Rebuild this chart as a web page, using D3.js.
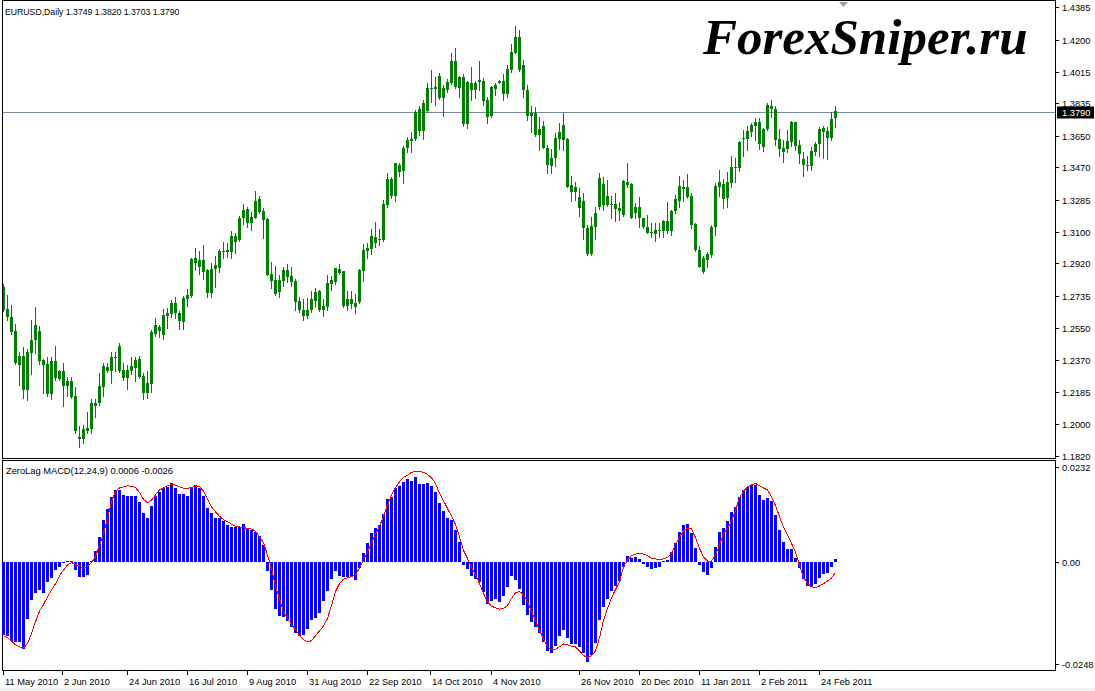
<!DOCTYPE html>
<html><head><meta charset="utf-8">
<script src="https://cdn.jsdelivr.net/npm/d3@7"></script>
<style>
html,body{margin:0;padding:0;background:#fff;}
svg{display:block;}
</style></head><body>
<svg id="chart" width="1095" height="691"></svg>
<script>
// ---------------- data ----------------
const symbolTitle = "EURUSD,Daily";
const lastBarText = "1.3749 1.3820 1.3703 1.3790";
const indicatorTitle = "ZeroLag MACD(12,24,9) 0.0006 -0.0026";
const watermark = "ForexSniper.ru";
const lastPrice = 1.3790;

const opens = [
1.2787,1.2657,1.2611,1.2533,1.2339,1.2390,1.2195,1.2409,1.2482,1.2533,
1.2367,1.2344,1.2173,1.2361,1.2258,1.2304,1.2218,1.2247,1.2161,1.1929,
1.1915,1.1976,1.1972,1.2121,1.2121,1.2215,1.2327,1.2304,1.2382,1.2447,
1.2310,1.2266,1.2306,1.2323,1.2373,1.2276,1.2180,1.2230,1.2516,1.2554,
1.2510,1.2619,1.2630,1.2695,1.2638,1.2587,1.2716,1.2735,1.2949,1.2939,
1.2939,1.2882,1.2749,1.2888,1.2892,1.2987,1.2997,1.2987,1.3077,1.3054,
1.3178,1.3231,1.3153,1.3182,1.3288,1.3220,1.3174,1.2859,1.2825,1.2758,
1.2821,1.2882,1.2848,1.2819,1.2705,1.2653,1.2621,1.2653,1.2707,1.2762,
1.2653,1.2672,1.2802,1.2815,1.2888,1.2876,1.2678,1.2716,1.2695,1.2701,
1.2878,1.2993,1.3002,1.3069,1.3056,1.3054,1.3254,1.3403,1.3305,1.3483,
1.3450,1.3578,1.3622,1.3630,1.3803,1.3679,1.3794,1.3918,1.3931,1.3868,
1.3921,1.3912,1.3950,1.4078,1.3925,1.3984,1.3717,1.3950,1.3912,1.3960,
1.3965,1.3855,1.3763,1.3918,1.3950,1.3963,1.3889,1.4027,1.4125,1.4217,
1.4056,1.3912,1.3763,1.3779,1.3655,1.3706,1.3578,1.3477,1.3521,1.3632,
1.3712,1.3630,1.3330,1.3355,1.3302,1.3277,1.3124,1.2974,1.3130,1.3241,
1.3374,1.3254,1.3260,1.3260,1.3222,1.3197,1.3387,1.3374,1.3210,1.3245,
1.3182,1.3130,1.3096,1.3111,1.3107,1.3107,1.3162,1.3107,1.3222,1.3279,
1.3359,1.3359,1.3305,1.3145,1.2997,1.2873,1.2940,1.2968,1.3126,1.3359,
1.3374,1.3292,1.3382,1.3468,1.3468,1.3630,1.3630,1.3674,1.3708,1.3729,
1.3584,1.3687,1.3820,1.3803,1.3630,1.3582,1.3574,1.3616,1.3727,1.3597,
1.3517,1.3483,1.3479,1.3559,1.3603,1.3697,1.3677,1.3639,1.3749];

const highs = [
1.2802,1.2739,1.2682,1.2573,1.2415,1.2443,1.2428,1.2596,1.2672,1.2562,
1.2371,1.2382,1.2386,1.2447,1.2310,1.2348,1.2268,1.2268,1.2211,1.1990,
1.1995,1.2072,1.2142,1.2142,1.2291,1.2348,1.2348,1.2415,1.2415,1.2462,
1.2352,1.2338,1.2386,1.2386,1.2392,1.2291,1.2304,1.2539,1.2606,1.2567,
1.2657,1.2663,1.2711,1.2726,1.2648,1.2733,1.2773,1.2953,1.3006,1.2991,
1.3025,1.2886,1.2920,1.2962,1.3002,1.3044,1.3035,1.3105,1.3096,1.3191,
1.3260,1.3241,1.3216,1.3334,1.3305,1.3235,1.3178,1.2930,1.2905,1.2854,
1.2897,1.2916,1.2897,1.2831,1.2730,1.2716,1.2720,1.2762,1.2777,1.2768,
1.2716,1.2853,1.2848,1.2895,1.2916,1.2876,1.2762,1.2762,1.2745,1.2886,
1.3029,1.3035,1.3117,1.3159,1.3117,1.3283,1.3439,1.3412,1.3492,1.3496,
1.3591,1.3645,1.3674,1.3798,1.3821,1.3855,1.3950,1.4026,1.3984,1.4011,
1.3941,1.3973,1.4122,1.4150,1.3992,1.4002,1.3963,1.4042,1.3963,1.4078,
1.3979,1.3870,1.3937,1.3950,1.3969,1.4002,1.4056,1.4175,1.4278,1.4255,
1.4084,1.3941,1.3821,1.3813,1.3756,1.3737,1.3597,1.3572,1.3668,1.3725,
1.3782,1.3635,1.3420,1.3388,1.3349,1.3321,1.3140,1.3184,1.3245,1.3439,
1.3412,1.3397,1.3305,1.3321,1.3273,1.3397,1.3496,1.3382,1.3267,1.3298,
1.3182,1.3197,1.3149,1.3149,1.3153,1.3168,1.3273,1.3225,1.3311,1.3420,
1.3397,1.3431,1.3321,1.3153,1.3019,1.2962,1.2987,1.3140,1.3382,1.3454,
1.3401,1.3445,1.3534,1.3521,1.3622,1.3683,1.3706,1.3721,1.3750,1.3750,
1.3697,1.3839,1.3855,1.3820,1.3687,1.3626,1.3683,1.3737,1.3731,1.3626,
1.3559,1.3534,1.3588,1.3616,1.3702,1.3706,1.3702,1.3784,1.3820];

const lows = [
1.2649,1.2596,1.2514,1.2344,1.2224,1.2152,1.2138,1.2287,1.2405,1.2342,
1.2176,1.2161,1.2144,1.2253,1.2253,1.2104,1.2161,1.2148,1.1948,1.1871,
1.1894,1.1948,1.1951,1.2043,1.2110,1.2161,1.2297,1.2237,1.2304,1.2297,
1.2253,1.2201,1.2287,1.2249,1.2262,1.2144,1.2152,1.2186,1.2506,1.2501,
1.2490,1.2548,1.2615,1.2606,1.2545,1.2543,1.2676,1.2730,1.2882,1.2857,
1.2831,1.2726,1.2726,1.2787,1.2873,1.2949,1.2958,1.2949,1.2977,1.3048,
1.3145,1.3126,1.3111,1.3178,1.3206,1.3063,1.2851,1.2777,1.2739,1.2730,
1.2791,1.2815,1.2791,1.2653,1.2644,1.2596,1.2606,1.2644,1.2672,1.2650,
1.2621,1.2653,1.2768,1.2802,1.2859,1.2669,1.2653,1.2663,1.2638,1.2695,
1.2821,1.2949,1.2974,1.3016,1.3025,1.3050,1.3241,1.3292,1.3279,1.3420,
1.3378,1.3559,1.3559,1.3626,1.3655,1.3630,1.3788,1.3845,1.3826,1.3860,
1.3765,1.3902,1.3946,1.3921,1.3870,1.3706,1.3693,1.3855,1.3864,1.3912,
1.3826,1.3725,1.3755,1.3883,1.3950,1.3855,1.3874,1.4017,1.4122,1.4021,
1.3874,1.3740,1.3674,1.3651,1.3569,1.3582,1.3439,1.3439,1.3477,1.3572,
1.3569,1.3355,1.3279,1.3283,1.3191,1.3058,1.2968,1.2968,1.3058,1.3229,
1.3225,1.3248,1.3178,1.3162,1.3168,1.3191,1.3359,1.3178,1.3178,1.3126,
1.3121,1.3092,1.3073,1.3050,1.3073,1.3073,1.3092,1.3082,1.3210,1.3244,
1.3279,1.3292,1.3121,1.2993,1.2901,1.2867,1.2901,1.2959,1.3082,1.3305,
1.3239,1.3244,1.3355,1.3388,1.3449,1.3534,1.3569,1.3651,1.3626,1.3572,
1.3563,1.3683,1.3759,1.3597,1.3536,1.3502,1.3559,1.3591,1.3569,1.3492,
1.3422,1.3454,1.3454,1.3540,1.3534,1.3521,1.3515,1.3626,1.3703];

const closes = [
1.2653,1.2611,1.2529,1.2352,1.2390,1.2195,1.2415,1.2482,1.2567,1.2363,
1.2339,1.2173,1.2361,1.2262,1.2304,1.2218,1.2247,1.2157,1.1961,1.1915,
1.1972,1.1961,1.2121,1.2104,1.2218,1.2333,1.2304,1.2382,1.2380,1.2304,
1.2266,1.2310,1.2331,1.2367,1.2268,1.2180,1.2234,1.2529,1.2567,1.2535,
1.2625,1.2638,1.2695,1.2638,1.2592,1.2724,1.2739,1.2945,1.2924,1.2901,
1.2873,1.2749,1.2888,1.2911,1.2991,1.2993,1.2987,1.3077,1.3044,1.3178,
1.3225,1.3153,1.3187,1.3277,1.3212,1.3168,1.2854,1.2821,1.2745,1.2825,
1.2882,1.2844,1.2815,1.2701,1.2653,1.2621,1.2653,1.2716,1.2754,1.2653,
1.2676,1.2806,1.2825,1.2895,1.2863,1.2676,1.2716,1.2688,1.2672,1.2882,
1.2996,1.3010,1.3077,1.3038,1.3060,1.3260,1.3403,1.3305,1.3492,1.3445,
1.3582,1.3626,1.3632,1.3784,1.3679,1.3840,1.3921,1.3925,1.3918,1.3992,
1.3868,1.3960,1.4078,1.3931,1.3984,1.3717,1.3956,1.3912,1.3950,1.3969,
1.3851,1.3760,1.3927,1.3941,1.3963,1.3889,1.4031,1.4127,1.4217,1.4027,
1.3912,1.3763,1.3782,1.3655,1.3689,1.3582,1.3483,1.3521,1.3635,1.3674,
1.3626,1.3355,1.3368,1.3330,1.3235,1.3121,1.2974,1.3136,1.3206,1.3407,
1.3254,1.3305,1.3254,1.3231,1.3239,1.3391,1.3368,1.3182,1.3245,1.3182,
1.3126,1.3096,1.3102,1.3088,1.3111,1.3162,1.3107,1.3220,1.3288,1.3363,
1.3344,1.3302,1.3140,1.2997,1.2901,1.2953,1.2974,1.3130,1.3363,1.3384,
1.3287,1.3384,1.3470,1.3473,1.3616,1.3635,1.3677,1.3712,1.3729,1.3603,
1.3687,1.3826,1.3803,1.3626,1.3574,1.3559,1.3620,1.3731,1.3593,1.3544,
1.3483,1.3479,1.3565,1.3603,1.3689,1.3674,1.3639,1.3746,1.3790];

const macdMain = [
-0.0177,-0.0180,-0.0193,-0.0196,-0.0196,-0.0211,-0.0139,-0.0093,-0.0077,-0.0069,
-0.0075,-0.0049,-0.0039,-0.0020,-0.0012,-0.0002,0.0002,0.0001,-0.0020,-0.0038,
-0.0038,-0.0031,0.0002,0.0026,0.0061,0.0102,0.0128,0.0159,0.0175,0.0175,
0.0164,0.0160,0.0160,0.0160,0.0146,0.0118,0.0107,0.0137,0.0161,0.0169,
0.0179,0.0183,0.0191,0.0180,0.0165,0.0165,0.0161,0.0179,0.0187,0.0180,
0.0161,0.0130,0.0118,0.0107,0.0107,0.0099,0.0089,0.0085,0.0085,0.0085,
0.0093,0.0083,0.0077,0.0072,0.0063,0.0042,-0.0022,-0.0068,-0.0115,-0.0133,
-0.0135,-0.0144,-0.0159,-0.0173,-0.0180,-0.0179,-0.0164,-0.0142,-0.0137,-0.0124,
-0.0096,-0.0072,-0.0042,-0.0023,-0.0034,-0.0037,-0.0037,-0.0037,-0.0045,-0.0016,
0.0022,0.0046,0.0070,0.0082,0.0089,0.0116,0.0153,0.0157,0.0180,0.0185,
0.0194,0.0202,0.0197,0.0207,0.0189,0.0189,0.0191,0.0185,0.0170,0.0143,
0.0124,0.0107,0.0102,0.0077,0.0048,-0.0008,-0.0018,-0.0035,-0.0042,-0.0049,
-0.0073,-0.0103,-0.0096,-0.0091,-0.0098,-0.0084,-0.0062,-0.0034,-0.0045,-0.0067,
-0.0106,-0.0130,-0.0146,-0.0159,-0.0173,-0.0195,-0.0217,-0.0222,-0.0205,-0.0180,
-0.0166,-0.0185,-0.0200,-0.0200,-0.0207,-0.0222,-0.0244,-0.0228,-0.0198,-0.0141,
-0.0110,-0.0090,-0.0071,-0.0059,-0.0046,-0.0013,0.0014,0.0010,0.0012,0.0007,
-0.0005,-0.0013,-0.0018,-0.0015,-0.0012,0.0002,0.0004,0.0024,0.0046,0.0072,
0.0089,0.0092,0.0070,0.0033,-0.0008,-0.0024,-0.0033,-0.0015,0.0036,0.0072,
0.0082,0.0099,0.0121,0.0133,0.0158,0.0175,0.0182,0.0187,0.0187,0.0163,
0.0150,0.0155,0.0148,0.0114,0.0077,0.0048,0.0031,0.0031,0.0009,-0.0015,
-0.0041,-0.0059,-0.0061,-0.0054,-0.0039,-0.0029,-0.0027,-0.0012,0.0006];

const macdSignal = [
-0.0180,-0.0185,-0.0193,-0.0202,-0.0207,-0.0210,-0.0199,-0.0175,-0.0146,-0.0120,
-0.0104,-0.0085,-0.0069,-0.0053,-0.0034,-0.0020,-0.0007,-0.0002,-0.0005,-0.0011,
-0.0015,-0.0012,-0.0002,0.0012,0.0041,0.0069,0.0106,0.0146,0.0172,0.0180,
0.0183,0.0185,0.0184,0.0181,0.0169,0.0152,0.0144,0.0150,0.0163,0.0175,
0.0180,0.0185,0.0189,0.0187,0.0183,0.0179,0.0179,0.0181,0.0185,0.0183,
0.0172,0.0154,0.0134,0.0122,0.0111,0.0103,0.0098,0.0092,0.0087,0.0085,
0.0084,0.0081,0.0080,0.0075,0.0061,0.0047,0.0016,-0.0015,-0.0060,-0.0090,
-0.0122,-0.0138,-0.0152,-0.0165,-0.0179,-0.0189,-0.0195,-0.0192,-0.0180,-0.0168,
-0.0156,-0.0138,-0.0106,-0.0072,-0.0053,-0.0042,-0.0039,-0.0036,-0.0031,-0.0015,
0.0004,0.0024,0.0047,0.0067,0.0086,0.0112,0.0138,0.0163,0.0180,0.0195,
0.0206,0.0211,0.0218,0.0221,0.0220,0.0218,0.0213,0.0205,0.0191,0.0167,
0.0149,0.0130,0.0111,0.0091,0.0061,0.0028,0.0008,-0.0012,-0.0031,-0.0053,
-0.0077,-0.0098,-0.0108,-0.0112,-0.0115,-0.0114,-0.0106,-0.0089,-0.0075,-0.0072,
-0.0080,-0.0098,-0.0120,-0.0144,-0.0167,-0.0187,-0.0207,-0.0213,-0.0213,-0.0207,
-0.0200,-0.0202,-0.0205,-0.0207,-0.0217,-0.0228,-0.0233,-0.0229,-0.0217,-0.0185,
-0.0142,-0.0114,-0.0088,-0.0067,-0.0049,-0.0012,0.0004,0.0015,0.0019,0.0020,
0.0019,0.0015,0.0009,0.0007,0.0006,0.0007,0.0011,0.0020,0.0042,0.0061,
0.0076,0.0082,0.0080,0.0059,0.0033,0.0012,0.0002,0.0002,0.0016,0.0042,
0.0069,0.0081,0.0099,0.0126,0.0156,0.0172,0.0183,0.0188,0.0191,0.0185,
0.0180,0.0175,0.0159,0.0137,0.0110,0.0085,0.0065,0.0045,0.0024,-0.0008,
-0.0037,-0.0053,-0.0060,-0.0063,-0.0059,-0.0053,-0.0047,-0.0039,-0.0026];

const priceTicks = [1.4385,1.4200,1.4015,1.3835,1.3650,1.3470,1.3285,1.3100,1.2920,1.2735,1.2550,1.2370,1.2185,1.2000,1.1820];
const macdTicks = [0.0232, 0, -0.0248];
const macdTickLabels = ["0.0232", "0.00", "-0.0248"];
const dateTickBars = [0,15,31,46,61,76,91,107,122,144,159,174,189,204];
const dateTickLabels = ["11 May 2010","2 Jun 2010","24 Jun 2010","16 Jul 2010","9 Aug 2010","31 Aug 2010","22 Sep 2010","14 Oct 2010","4 Nov 2010","26 Nov 2010","20 Dec 2010","11 Jan 2011","2 Feb 2011","24 Feb 2011"];

// ---------------- layout ----------------
const W = 1095, H = 691;
const plotL = 2, plotR = 1055;
const pTop = 0, pBot = 458;
const mTop = 460, mBot = 670;
const FONT = 9.3;
const SANS = "'Liberation Sans', Arial, sans-serif";
const GREEN = "#008000", BLUE = "#0000ff", RED = "#ff0000";

const svg = d3.select("#chart");
svg.append("rect").attr("width", W).attr("height", H).attr("fill", "#fff");
svg.append("rect").attr("x", 0).attr("y", 688).attr("width", W).attr("height", 3).attr("fill", "#f0f0f0");

function label(g, xx, yy, txt, size, fill) {
  return g.append("text").attr("x", xx).attr("y", yy)
    .style("font-family", SANS).style("font-size", size + "px").attr("fill", fill || "#000").text(txt);
}

const n = closes.length;
const x = d3.scaleLinear().domain([0, n - 1]).range([3.5, 3.5 + 4 * (n - 1)]);
const y = d3.scaleLinear().domain([1.1820, 1.4385]).range([455.7, 7.3]);
const ym = d3.scaleLinear().domain([-0.0248, 0.0232]).range([663.7, 466.6]);

// ---------- price panel ----------
const gP = svg.append("g").attr("shape-rendering", "crispEdges");
gP.append("line").attr("x1", plotL).attr("x2", plotR)
  .attr("y1", Math.round(y(lastPrice)) + 1.5).attr("y2", Math.round(y(lastPrice)) + 1.5)
  .attr("stroke", "#778899").attr("stroke-width", 1);

const bars = d3.range(n);
gP.selectAll("rect.wick").data(bars).join("rect").attr("class", "wick")
  .attr("x", i => x(i) - 0.5).attr("width", 1)
  .attr("y", i => Math.round(y(highs[i])))
  .attr("height", i => Math.round(y(lows[i])) - Math.round(y(highs[i])) + 1)
  .attr("fill", GREEN);
gP.selectAll("rect.body").data(bars).join("rect").attr("class", "body")
  .attr("x", i => x(i) - 1.5).attr("width", 3)
  .attr("y", i => Math.round(y(Math.max(opens[i], closes[i]))))
  .attr("height", i => Math.max(1, Math.round(y(Math.min(opens[i], closes[i]))) - Math.round(y(Math.max(opens[i], closes[i])))))
  .attr("fill", GREEN);

svg.append("rect").attr("x", plotL + 0.5).attr("y", pTop + 0.5).attr("width", plotR - plotL).attr("height", pBot - pTop)
  .attr("fill", "none").attr("stroke", "#000").attr("shape-rendering", "crispEdges");
svg.append("rect").attr("x", plotL + 0.5).attr("y", mTop + 0.5).attr("width", plotR - plotL).attr("height", mBot - mTop)
  .attr("fill", "none").attr("stroke", "#000").attr("shape-rendering", "crispEdges");

const gA = svg.append("g");
priceTicks.forEach(p => {
  const yy = Math.round(y(p)) + 0.5;
  gA.append("line").attr("x1", plotR).attr("x2", plotR + 4).attr("y1", yy).attr("y2", yy)
    .attr("stroke", "#000").attr("shape-rendering", "crispEdges");
  label(gA, 1062, yy + 3.5, d3.format(".4f")(p), FONT);
});
const yl = Math.round(y(lastPrice)) + 1.5;
gA.append("rect").attr("x", 1057).attr("y", yl - 6).attr("width", 37).attr("height", 12).attr("fill", "#000");
label(gA, 1062, yl + 3.5, d3.format(".4f")(lastPrice), FONT, "#fff");

svg.append("path").attr("d", "M839,2 L848,2 L843.5,7 Z").attr("fill", "#a0a0a0");

label(svg, 5, 15, symbolTitle + "  " + lastBarText, 8.7);
svg.append("text").attr("x", 703).attr("y", 54)
  .style("font-family", "'Liberation Serif','Times New Roman',serif")
  .style("font-weight", "bold").style("font-style", "italic").style("font-size", "51px").attr("fill", "#000")
  .text(watermark);

// ---------- MACD panel ----------
const gM = svg.append("g").attr("shape-rendering", "crispEdges");
const y0 = Math.round(ym(0));
gM.selectAll("rect.hist").data(bars).join("rect").attr("class", "hist")
  .attr("x", i => x(i) - 1.5).attr("width", 3)
  .attr("y", i => macdMain[i] >= 0 ? Math.round(ym(macdMain[i])) : y0)
  .attr("height", i => Math.max(1, Math.abs(Math.round(ym(macdMain[i])) - y0)))
  .attr("fill", BLUE);
const line = d3.line().x(i => x(i)).y(i => ym(macdSignal[i]));
svg.append("path").attr("d", line(bars)).attr("fill", "none").attr("stroke", RED).attr("stroke-width", 1)
  .attr("shape-rendering", "crispEdges");

label(svg, 6, 474, indicatorTitle, FONT);

macdTicks.forEach((v, k) => {
  const yy = Math.round(ym(v)) + 0.5;
  gA.append("line").attr("x1", plotR).attr("x2", plotR + 4).attr("y1", yy).attr("y2", yy)
    .attr("stroke", "#000").attr("shape-rendering", "crispEdges");
  label(gA, 1062, yy + 3.5, macdTickLabels[k], FONT);
});

// ---------- date axis ----------
dateTickBars.forEach((b, k) => {
  const xx = Math.round(x(b) - 1) + 0.5;
  gA.append("line").attr("x1", xx).attr("x2", xx).attr("y1", mBot).attr("y2", mBot + 5)
    .attr("stroke", "#000").attr("shape-rendering", "crispEdges");
  label(gA, xx + 1.5, 684.5, dateTickLabels[k], FONT);
});
</script>
</body></html>
